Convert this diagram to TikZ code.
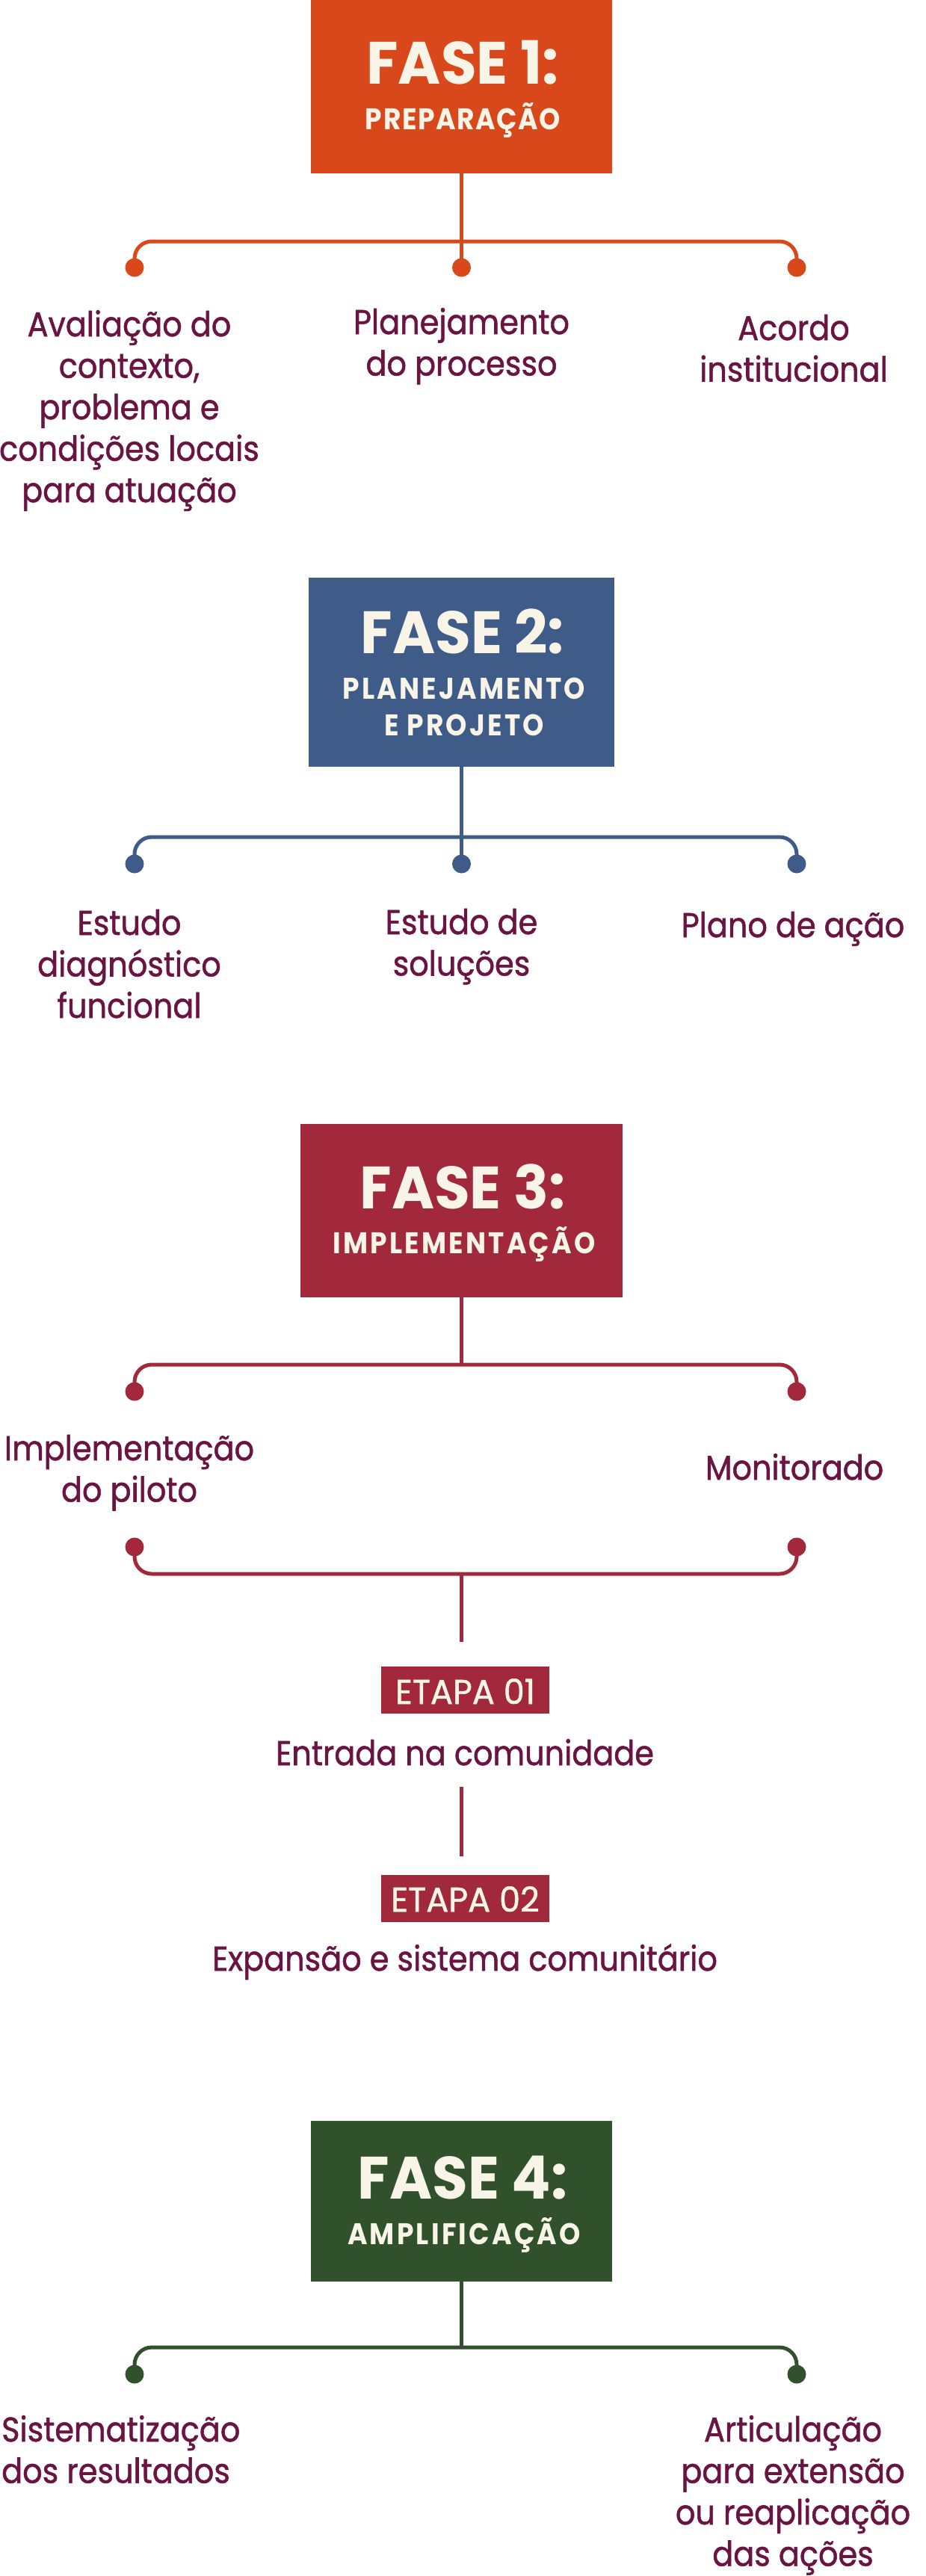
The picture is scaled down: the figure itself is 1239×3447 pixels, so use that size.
\documentclass[tikz,border=0pt]{standalone}
\usepackage{fontspec}
\setmainfont{Poppins}
\newfontfamily\bodyfont{Poppins}[FakeStretch=0.9, FakeBold=1.2]
\newfontfamily\etpfont{Poppins}[FakeStretch=0.97, FakeBold=1.2]
\newfontfamily\titlefont{Poppins}[FakeStretch=0.97]
\newfontfamily\subfont{Poppins}[FakeStretch=0.9, LetterSpace=8]
\newfontfamily\subfontnarrow{Poppins}[FakeStretch=0.9, LetterSpace=4]
\definecolor{txt}{HTML}{6A1442}
\definecolor{cream}{HTML}{F8F5E8}
\definecolor{cA}{HTML}{D9481A}
\definecolor{cB}{HTML}{3F5C89}
\definecolor{cC}{HTML}{A2283B}
\definecolor{cD}{HTML}{30512C}
\tikzset{
  phasebox/.style={rectangle, inner sep=0pt, draw=none},
  lnk/.style={line width=5pt, rounded corners=23pt},
  plain/.style={line width=5pt},
  dotn/.style={circle, inner sep=0pt, minimum size=25pt},
  body/.style={font=\bodyfont\fontsize{46}{55.5}\selectfont, text=txt, align=center, inner sep=0pt, anchor=base},
  ttl/.style={font=\titlefont\bfseries\fontsize{80}{90}\selectfont, text=cream, inner sep=0pt, anchor=base},
  sub/.style={font=\subfont\bfseries\fontsize{40}{49}\selectfont, text=cream, align=center, inner sep=0pt, anchor=base},
  subn/.style={font=\subfontnarrow\bfseries\fontsize{40}{49}\selectfont, text=cream, align=center, inner sep=0pt, anchor=base},
  etp/.style={font=\etpfont\fontsize{46}{55}\selectfont, text=cream, inner sep=0pt, anchor=base},
}
\begin{document}
\begin{tikzpicture}[x=1pt,y=-1pt]
\useasboundingbox (0,0) rectangle (1239,3447);
% ---------- FASE 1 ----------
\node[phasebox, fill=cA, minimum width=403pt, minimum height=232pt] (f1) at (617.5,116) {};
\node[ttl] (f1t) at (619,113) {FASE 1:};
\node[subn] (f1s) at (619.5,173) {PREPARAÇÃO};
\node[dotn, fill=cA] (d11) at (180,358) {};
\node[dotn, fill=cA] (d12) at (617.5,358) {};
\node[dotn, fill=cA] (d13) at (1066,358) {};
\draw[lnk, cA] (d11.center) -- (180,323) -- (1066,323) -- (d13.center);
\draw[plain, cA] (f1.south) -- (d12.center);
\node[body] (t11) at (173,672) {Avaliação do\\contexto,\\problema e\\condições locais\\para atuação};
\node[body] (t12) at (617.5,502.5) {Planejamento\\do processo};
\node[body] (t13) at (1062,510.5) {Acordo\\institucional};
% ---------- FASE 2 ----------
\node[phasebox, fill=cB, minimum width=409pt, minimum height=253pt] (f2) at (617.5,899.5) {};
\node[ttl] (f2t) at (619,874) {FASE 2:};
\node[sub] (f2s) at (621,984) {PLANEJAMENTO\\E PROJETO};
\node[dotn, fill=cB] (d21) at (180,1156) {};
\node[dotn, fill=cB] (d22) at (617.5,1156) {};
\node[dotn, fill=cB] (d23) at (1066,1156) {};
\draw[lnk, cB] (d21.center) -- (180,1120) -- (1066,1120) -- (d23.center);
\draw[plain, cB] (f2.south) -- (d22.center);
\node[body] (t21) at (173,1362) {Estudo\\diagnóstico\\funcional};
\node[body] (t22) at (617.5,1305.5) {Estudo de\\soluções};
\node[body] (t23) at (1061,1254) {Plano de ação};
% ---------- FASE 3 ----------
\node[phasebox, fill=cC, minimum width=431pt, minimum height=232pt] (f3) at (617.5,1620) {};
\node[ttl] (f3t) at (619,1617) {FASE 3:};
\node[sub] (f3s) at (621,1677) {IMPLEMENTAÇÃO};
\node[dotn, fill=cC] (d31) at (180,1862) {};
\node[dotn, fill=cC] (d32) at (1066,1862) {};
\coordinate (j3) at (617.5,1826);
\draw[lnk, cC] (d31.center) -- (180,1826) -- (1066,1826) -- (d32.center);
\draw[plain, cC] (f3.south) -- (j3);
\node[body] (t31) at (173,2009.5) {Implementação\\do piloto};
\node[body] (t32) at (1063,1980) {Monitorado};
\node[dotn, fill=cC] (d33) at (180,2070) {};
\node[dotn, fill=cC] (d34) at (1066,2070) {};
\coordinate (j4) at (617.5,2106);
\coordinate (j5) at (617.5,2197);
\draw[lnk, cC] (d33.center) -- (180,2106) -- (1066,2106) -- (d34.center);
\draw[plain, cC] (j4) -- (j5);
\node[phasebox, fill=cC, minimum width=225pt, minimum height=63pt] (e1) at (622.5,2261.5) {};
\node[etp] (e1t) at (622.5,2280) {ETAPA 01};
\node[body] (e1d) at (622,2362) {Entrada na comunidade};
\coordinate (k1) at (617.5,2391);
\coordinate (k2) at (617.5,2484);
\draw[plain, cC] (k1) -- (k2);
\node[phasebox, fill=cC, minimum width=225pt, minimum height=63pt] (e2) at (622.5,2540.5) {};
\node[etp] (e2t) at (622.5,2558) {ETAPA 02};
\node[body] (e2d) at (622,2637) {Expansão e sistema comunitário};
% ---------- FASE 4 ----------
\node[phasebox, fill=cD, minimum width=403pt, minimum height=215pt] (f4) at (617.5,2945.5) {};
\node[ttl] (f4t) at (619,2942) {FASE 4:};
\node[sub] (f4s) at (621,3003) {AMPLIFICAÇÃO};
\node[dotn, fill=cD] (d41) at (180,3177) {};
\node[dotn, fill=cD] (d42) at (1066,3177) {};
\coordinate (j6) at (617.5,3141);
\draw[lnk, cD] (d41.center) -- (180,3141) -- (1066,3141) -- (d42.center);
\draw[plain, cD] (f4.south) -- (j6);
\node[body, align=left, anchor=base west] (t41) at (2,3322.5) {Sistematização\\dos resultados};
\node[body] (t42) at (1061,3433.5) {Articulação\\para extensão\\ou reaplicação\\das ações};
\end{tikzpicture}
\end{document}
